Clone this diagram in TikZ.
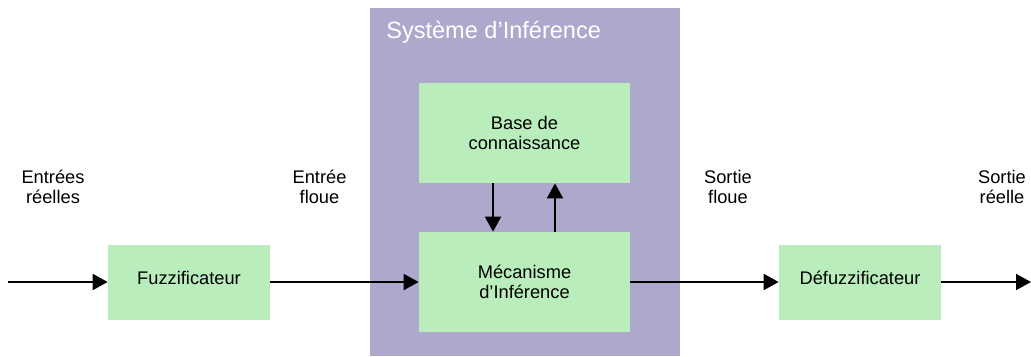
\documentclass[tikz,border=0pt]{standalone}
\usepackage{fontspec}
\setmainfont{Liberation Sans}
\usetikzlibrary{arrows.meta}
\definecolor{sysviolet}{RGB}{173,169,204}
\definecolor{blocvert}{RGB}{185,237,187}
\tikzset{
  bloc/.style={fill=blocvert, draw=none, inner sep=0pt, align=center, font=\fontsize{10.4}{11.6}\selectfont},
  lbl/.style={align=center, font=\fontsize{10.4}{11.6}\selectfont},
  fleche/.style={-{Triangle[length=0.3cm,width=0.32cm]}, line width=1.1pt},
}
\begin{document}
\begin{tikzpicture}[x=0.02cm, y=-0.02cm]
    \def\ya{282}
    \useasboundingbox (0,0) rectangle (1031,356);

    % systeme d'inference
    \node[fill=sysviolet, minimum width=6.2cm, minimum height=6.96cm, inner sep=0pt] (sys) at (525,182) {};
    \node[anchor=base west, inner sep=0pt, text=white, font=\fontsize{13.4}{16}\selectfont] (titre) at (386,38) {Système d’Inférence};

    \node[bloc, minimum width=4.22cm, minimum height=2cm] (base) at (524.5,133) {Base de\\connaissance};
    \node[bloc, minimum width=4.22cm, minimum height=2cm] (meca) at (524.5,\ya) {Mécanisme\\d’Inférence};
    \node[bloc, minimum width=3.24cm, minimum height=1.5cm, text depth=0.45em] (fuzz) at (189,\ya) {Fuzzificateur};
    \node[bloc, minimum width=3.24cm, minimum height=1.5cm, text depth=0.45em] (defuzz) at (860,\ya) {Défuzzificateur};

    \node[lbl] (ereel) at (53,187) {Entrées\\réelles};
    \node[lbl] (efloue) at (319.5,187) {Entrée\\floue};
    \node[lbl] (sfloue) at (728,187) {Sortie\\floue};
    \node[lbl] (sreel) at (1002,187) {Sortie\\réelle};

    \coordinate (entree) at (8,\ya);
    \coordinate (sortie) at (1031,\ya);
    \draw[fleche] (entree) -- (fuzz);
    \draw[fleche] (fuzz) -- (meca);
    \draw[fleche] (meca) -- (defuzz);
    \draw[fleche] (defuzz) -- (sortie);
    \draw[fleche] ([xshift=-0.63cm]base.south) -- ([xshift=-0.63cm]meca.north);
    \draw[fleche] ([xshift=0.61cm]meca.north) -- ([xshift=0.61cm]base.south);
\end{tikzpicture}
\end{document}
